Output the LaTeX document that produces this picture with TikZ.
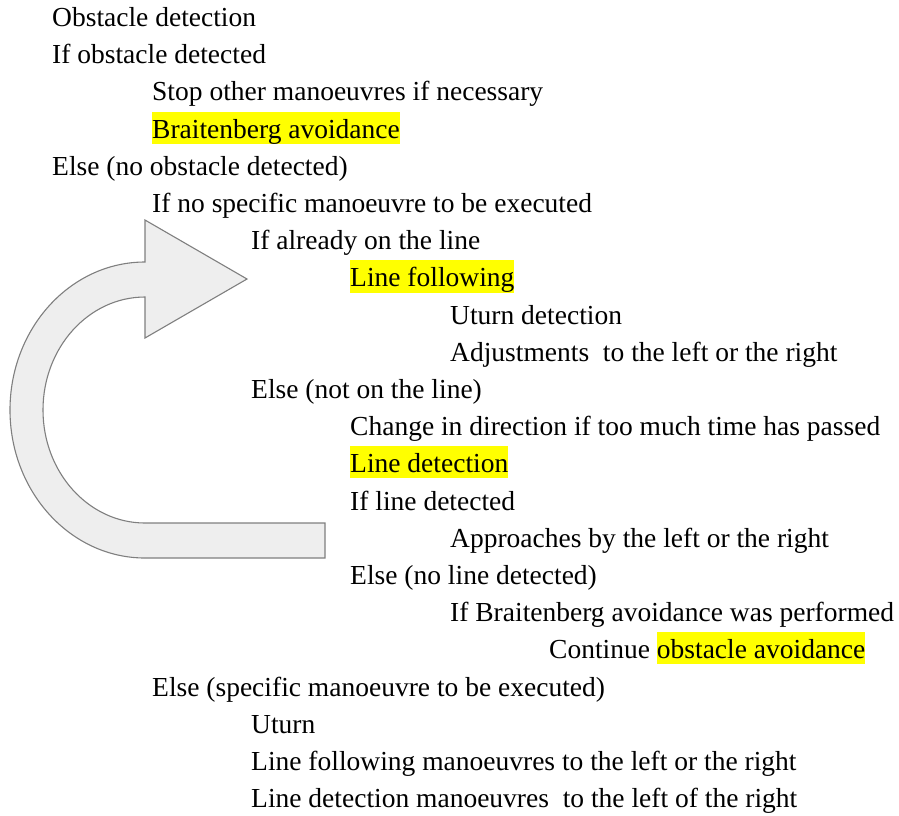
\documentclass[tikz,border=0pt]{standalone}
\usepackage{fontspec}
\setmainfont{Liberation Serif}
\usepackage{xcolor}
\definecolor{hlyellow}{HTML}{FFFF00}
\definecolor{arrowfill}{HTML}{EEEEEE}
\definecolor{arrowline}{HTML}{7F7F7F}
\newcommand{\hlt}[1]{{\setlength{\fboxsep}{0pt}\colorbox{hlyellow}{\rule[-5.5pt]{0pt}{32pt}#1}}}
\begin{document}
\begin{tikzpicture}[x=1pt,y=-1pt,
  txt/.style={anchor=base west,inner sep=0pt,font=\fontsize{27.5pt}{33pt}\selectfont,text=black},
  bigarrow/.style={fill=arrowfill,draw=arrowline,line width=1.1pt,line join=miter}]
\useasboundingbox (0,0) rectangle (899,815);
% U-turn arrow
\coordinate (ahead) at (247,279);
\draw[bigarrow] (325,523) -- (145,523)
  arc[start angle=270,end angle=90,x radius=102,y radius=-113]
  -- (145,338) -- (ahead) -- (145,220) -- (145,262)
  arc[start angle=90,end angle=270,x radius=135,y radius=-148]
  -- (325,558) -- cycle;
% Text lines
\node[txt] (l1)  at (52,26.5) {Obstacle detection};
\node[txt] (l2)  at (52,63.7) {If obstacle detected};
\node[txt] (l3)  at (152,100.9) {Stop other manoeuvres if necessary};
\node[txt] (l4)  at (152,138.1) {\hlt{Braitenberg avoidance}};
\node[txt] (l5)  at (52,175.3) {Else (no obstacle detected)};
\node[txt] (l6)  at (152,212.5) {If no specific manoeuvre to be executed};
\node[txt] (l7)  at (251,249.7) {If already on the line};
\node[txt] (l8)  at (350,286.9) {\hlt{Line following}};
\node[txt] (l9)  at (450,324.1) {Uturn detection};
\node[txt] (l10) at (450,361.3) {Adjustments\ \ to the left or the right};
\node[txt] (l11) at (251,398.5) {Else (not on the line)};
\node[txt] (l12) at (350,435.7) {Change in direction if too much time has passed};
\node[txt] (l13) at (350,472.9) {\hlt{Line detection}};
\node[txt] (l14) at (350,510.1) {If line detected};
\node[txt] (l15) at (450,547.3) {Approaches by the left or the right};
\node[txt] (l16) at (350,584.5) {Else (no line detected)};
\node[txt] (l17) at (450,621.7) {If Braitenberg avoidance was performed};
\node[txt] (l18) at (549,658.9) {Continue \hlt{obstacle avoidance}};
\node[txt] (l19) at (152,696.1) {Else (specific manoeuvre to be executed)};
\node[txt] (l20) at (251,733.3) {Uturn};
\node[txt] (l21) at (251,770.5) {Line following manoeuvres to the left or the right};
\node[txt] (l22) at (251,807.7) {Line detection manoeuvres\ \ to the left of the right};
\end{tikzpicture}
\end{document}
